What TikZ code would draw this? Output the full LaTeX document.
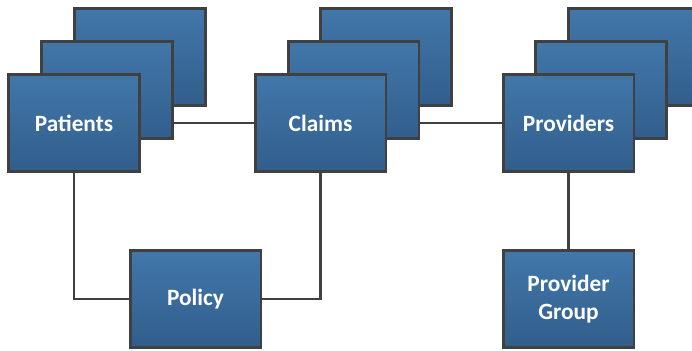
\documentclass[tikz,border=0pt]{standalone}
\usepackage{fontspec}
\setmainfont{Carlito}
\usetikzlibrary{shadows}
\definecolor{boxtop}{RGB}{66,119,170}
\definecolor{boxbot}{RGB}{49,94,140}
\definecolor{edgegray}{RGB}{64,64,64}
\tikzset{
  ent/.style={rectangle, draw=edgegray, line width=2pt, top color=boxtop, bottom color=boxbot,
    minimum width=98pt, minimum height=73pt, inner sep=0pt, text=white,
    font=\fontsize{17.5}{21}\selectfont\bfseries, align=center,
    drop shadow={shadow xshift=1.2pt, shadow yshift=-1.2pt, opacity=0.25, fill=black}},
  link/.style={draw=edgegray, line width=1.7pt}
}
\begin{document}
\begin{tikzpicture}[x=0.75pt, y=-0.75pt]
\useasboundingbox (0,0) rectangle (692,350);
% Patients stack
\node[ent] (pb) at (140,57) {};
\node[ent] (pm) at (107,90) {};
\node[ent] (p) at (74,123) {Patients};
% Claims stack
\node[ent] (cb) at (386,57) {};
\node[ent] (cm) at (353.5,90) {};
\node[ent] (c) at (320.5,123) {Claims};
% Providers stack
\node[ent] (rb) at (634,57) {};
\node[ent] (rm) at (601,90) {};
\node[ent] (r) at (568.5,123) {Providers};
% bottom
\node[ent] (pol) at (195.5,299) {Policy};
\node[ent] (pg) at (568.5,299) {Provider\\Group};
% connectors
\draw[link] (p.center -| pm.east) -- (c.west);
\draw[link] (c.center -| cm.east) -- (r.west);
\draw[link] (p.south) |- (pol.west);
\draw[link] (c.south) |- (pol.east);
\draw[link] (r.south) -- (pg.north);
\end{tikzpicture}
\end{document}
